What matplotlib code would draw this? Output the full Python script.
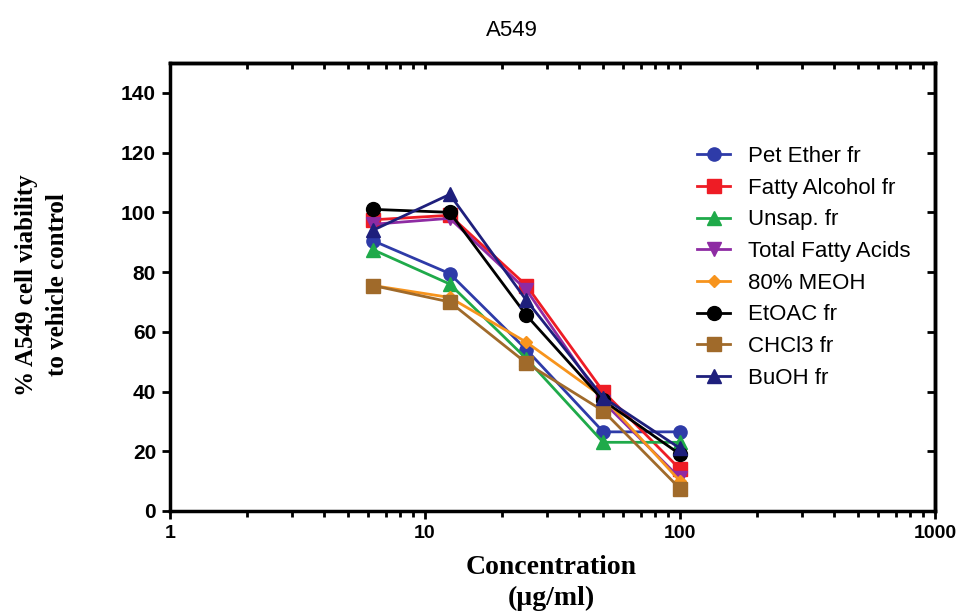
import matplotlib
matplotlib.use("Agg")
import matplotlib.pyplot as plt
from matplotlib.ticker import LogLocator, NullFormatter, FixedLocator

# Concentrations (µg/ml)
conc = [6.25, 12.5, 25, 50, 100]

# % A549 cell viability relative to vehicle control
pet_ether = [90.5, 79.5, 54, 26.5, 26.5]
fatty_alcohol = [97.5, 99, 75.5, 40, 14]
unsap = [87.5, 76, 51, 23, 23]
total_fatty_acids = [96, 98, 74, 36.5, 11]
meoh_80 = [75.5, 71.5, 56.5, 38, 10]
etoac = [101, 100, 65.5, 37, 19]
chcl3 = [75.5, 70, 49.5, 33.5, 7.5]
buoh = [94, 106, 70.5, 38, 21]

labels = ["Pet Ether fr", "Fatty Alcohol fr", "Unsap. fr", "Total Fatty Acids",
          "80% MEOH", "EtOAC fr", "CHCl3 fr", "BuOH fr"]
series = [pet_ether, fatty_alcohol, unsap, total_fatty_acids,
          meoh_80, etoac, chcl3, buoh]
colors = ["#2e3ba8", "#ee1c25", "#1faa4a", "#8e2ba3",
          "#f7941d", "#000000", "#a06a2a", "#1e1f7c"]
markers = ["o", "s", "^", "v", "D", "o", "s", "^"]
msizes = [9.5, 9.5, 9.5, 9.5, 6.5, 10, 10, 10]

y_ticks = [0, 20, 40, 60, 80, 100, 120, 140]
x_ticks = [1, 10, 100, 1000]

fig = plt.figure(figsize=(9.61, 6.13), dpi=100)
ax = fig.add_axes([170 / 961, 1 - 511 / 613, (935 - 170) / 961, (511 - 63) / 613])

for vals, lab, col, mk, ms in zip(series, labels, colors, markers, msizes):
    ax.plot(conc, vals, color=col, marker=mk, markersize=ms, linewidth=2,
            label=lab, markeredgecolor=col)

ax.set_xscale("log")
ax.set_xlim(1, 1000)
ax.set_ylim(0, 150)
ax.set_yticks(y_ticks)
ax.set_xticks(x_ticks)
ax.set_xticklabels([str(t) for t in x_ticks])
ax.xaxis.set_minor_locator(LogLocator(base=10, subs=range(2, 10)))
ax.xaxis.set_minor_formatter(NullFormatter())

for s in ax.spines.values():
    s.set_linewidth(2.5)

ax.tick_params(axis="both", which="major", direction="out", length=6, width=2,
               pad=4)
ax.tick_params(axis="x", which="major", labelsize=14)
ax.tick_params(axis="y", which="major", labelsize=15)
ax.tick_params(axis="x", which="minor", direction="out", length=4, width=2)
for lbl in ax.get_xticklabels() + ax.get_yticklabels():
    lbl.set_fontfamily("Liberation Sans")
    lbl.set_fontweight("bold")

# Inward ticks on the top and right frame
top = ax.secondary_xaxis("top")
top.xaxis.set_major_locator(FixedLocator(x_ticks))
top.xaxis.set_minor_locator(LogLocator(base=10, subs=range(2, 10)))
top.tick_params(which="both", direction="in", length=4, width=2,
                labeltop=False)
top.spines["top"].set_linewidth(2.5)

right = ax.secondary_yaxis("right")
right.yaxis.set_major_locator(FixedLocator(y_ticks))
right.tick_params(which="both", direction="in", length=6, width=2,
                  labelright=False)
right.spines["right"].set_linewidth(2.5)

ax.legend(loc="upper left", bbox_to_anchor=(697 / 961, 1 - 146 / 613),
          bbox_transform=fig.transFigure, frameon=False,
          borderaxespad=0, borderpad=0, handlelength=1.5,
          handletextpad=0.8, labelspacing=0.48,
          prop=dict(family="Liberation Sans", size=16))

fig.text(512 / 961, 1 - 30 / 613, "A549", ha="center", va="center",
         family="Liberation Sans", fontsize=16)
fig.text(551 / 961, 1 - 567 / 613, "Concentration", ha="center", va="center",
         family="Liberation Serif", fontweight="bold", fontsize=20)
fig.text(551 / 961, 1 - 598 / 613, "(µg/ml)", ha="center", va="center",
         family="Liberation Serif", fontweight="bold", fontsize=20)
fig.text(42 / 961, 1 - 285 / 613, "% A549 cell viability\nto vehicle control",
         ha="center", va="center", rotation=90, linespacing=1.48,
         family="Liberation Serif", fontweight="bold", fontsize=18)

fig.savefig("out.png", dpi=100)
